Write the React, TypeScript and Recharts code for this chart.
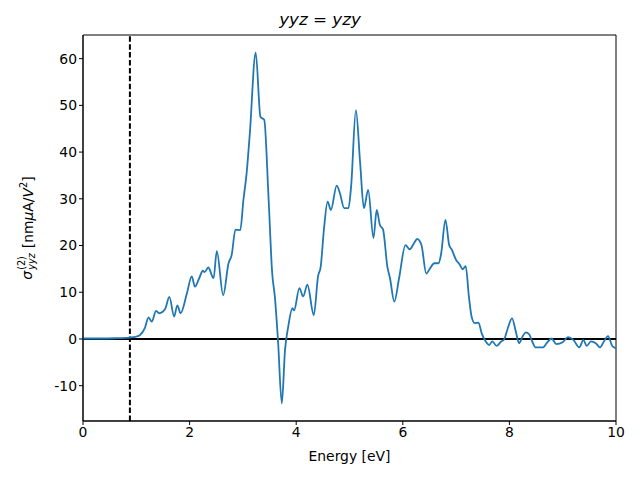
import React from 'react';
import { LineChart, Line, XAxis, YAxis, ReferenceLine, ReferenceArea } from 'recharts';

const energy = [
  0, 0.3, 0.6, 0.88, 1.0, 1.07, 1.16, 1.23, 1.29, 1.37, 1.43, 1.54, 1.62, 1.71, 1.77, 1.83, 1.95,
  2.04, 2.1, 2.18, 2.25, 2.28, 2.35, 2.45, 2.51, 2.63, 2.73, 2.79, 2.86, 2.95, 3.01, 3.07, 3.13,
  3.24, 3.33, 3.4, 3.48, 3.55, 3.6, 3.66, 3.73, 3.79, 3.85, 3.93, 3.96, 4.06, 4.13, 4.21, 4.33,
  4.41, 4.46, 4.52, 4.59, 4.65, 4.76, 4.82, 4.9, 4.98, 5.03, 5.12, 5.2, 5.27, 5.35, 5.45, 5.51,
  5.57, 5.63, 5.71, 5.76, 5.84, 5.93, 6.05, 6.13, 6.21, 6.27, 6.35, 6.44, 6.51, 6.59, 6.67, 6.72,
  6.8, 6.87, 6.92, 7.0, 7.07, 7.12, 7.18, 7.24, 7.29, 7.35, 7.42, 7.48, 7.56, 7.62, 7.68, 7.76,
  7.84, 7.9, 7.97, 8.05, 8.12, 8.18, 8.25, 8.31, 8.37, 8.43, 8.49, 8.57, 8.63, 8.7, 8.79, 8.88,
  9.0, 9.1, 9.2, 9.31, 9.39, 9.45, 9.53, 9.62, 9.7, 9.77, 9.85, 9.93, 10,
];

const sigma = [
  0.1, 0.1, 0.15, 0.3, 0.5, 0.85, 2.3, 4.6, 3.7, 6.0, 5.5, 6.4, 9.0, 4.8, 7.2, 5.5, 9.8,
  13.4, 11.2, 13.0, 14.6, 14.3, 15.3, 13.0, 18.8, 9.4, 16.2, 18.0, 23.4, 23.3, 29.8, 35.5, 44,
  61.3, 47.5, 46.9, 30.5, 14, 9, -0.6, -13.8, -2.4, 2.6, 6.6, 6.1, 10.9, 9.1, 11.6, 5.1,
  13.4, 15.5, 23.4, 29.4, 27.6, 32.8, 31.2, 28, 28, 32.6, 49, 37.6, 28, 31.9, 21.6, 27.6,
  24.4, 23.4, 15.5, 13, 8, 13, 20.1, 19.2, 20.5, 21.4, 20.1, 14, 15.1, 16.2, 16.2, 18.3,
  25.5, 20.1, 19.1, 16.9, 15.9, 14.9, 15.6, 9.1, 4.8, 3.4, 3.5, 1.2, -0.6, -1.3, -0.5, -1.5,
  -0.6, -0.1, 2.3, 4.4, 1.6, -0.9, 0.6, 1.4, 1.0, -0.6, -1.8, -1.8, -1.8, -0.9, 0.1, -1.1,
  -0.7, 0.4, -0.2, -1.8, -0.2, -1.5, -0.5, -0.9, -1.8, -0.6, 0.6, -1.5, -2,
];

const xTicks = [0, 2, 4, 6, 8, 10];
const yTicks = [-10, 0, 10, 20, 30, 40, 50, 60];
const gapEnergy = 0.88;

const data = energy.map((e, i) => ({ e, s: sigma[i] }));

const FONT = '"DejaVu Sans", sans-serif';
const tick = { fill: '#000', fontSize: 13.9, fontFamily: FONT };

export default function App() {
  return (
    <div style={{ position: 'fixed', left: 0, top: 0, width: 640, height: 480, background: '#fff', fontFamily: FONT }}>
      <LineChart width={640} height={480} data={data} margin={{ top: 35, right: 24, bottom: 29, left: 33 }}>
        <XAxis
          dataKey="e"
          type="number"
          domain={[0, 10]}
          ticks={xTicks}
          allowDataOverflow
          height={30}
          stroke="#000"
          tickSize={4}
          tickLine={{ stroke: '#000' }}
          tick={tick}
        />
        <YAxis
          type="number"
          domain={[-17.56, 65.06]}
          ticks={yTicks}
          allowDataOverflow
          width={50}
          stroke="#000"
          tickSize={4}
          tickLine={{ stroke: '#000' }}
          tick={tick}
        />
        <ReferenceArea x1={0} x2={10} y1={-17.56} y2={65.06} fill="none" stroke="#000" strokeWidth={1} />
        <ReferenceLine y={0} stroke="#000" strokeWidth={2} />
        <ReferenceLine x={gapEnergy} stroke="#000" strokeWidth={2} strokeDasharray="5.5 2.4" />
        <Line
          type="monotone"
          dataKey="s"
          stroke="#1f77b4"
          strokeWidth={1.8}
          dot={false}
          isAnimationActive={false}
        />
      </LineChart>
      <div style={{ position: 'absolute', left: 0, width: 640, top: 9, textAlign: 'center', fontSize: 16.7 }}>
        <i>yyz</i> = <i>yzy</i>
      </div>
      <div style={{ position: 'absolute', left: 83, width: 533, top: 448, textAlign: 'center', fontSize: 13.9 }}>
        Energy [eV]
      </div>
      <div
        style={{
          position: 'absolute',
          left: 27,
          top: 228,
          transform: 'translate(-50%, -50%) rotate(-90deg)',
          whiteSpace: 'nowrap',
          fontSize: 13.9,
          display: 'flex',
          alignItems: 'center',
        }}
      >
        <i>σ</i>
        <span style={{ display: 'inline-flex', flexDirection: 'column', fontSize: 9.7, lineHeight: '10px', marginLeft: 1, marginRight: 5 }}>
          <span>(2)</span>
          <i>yyz</i>
        </span>
        <span>[nm<i>μ</i>A/<i>V</i><sup style={{ fontSize: 9.7 }}>2</sup>]</span>
      </div>
    </div>
  );
}
